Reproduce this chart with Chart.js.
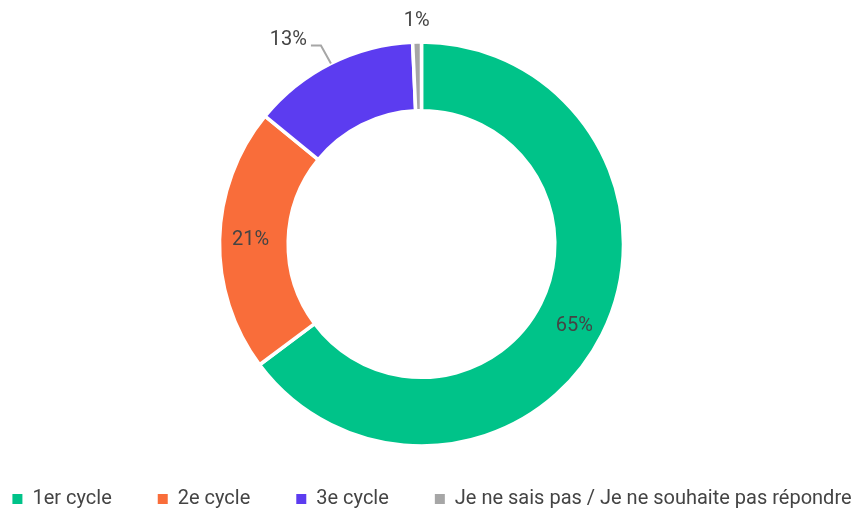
<!DOCTYPE html>
<html>
<head>
<meta charset="utf-8">
<script src="https://cdn.jsdelivr.net/npm/chart.js@4"></script>
<style>
  html, body { margin: 0; padding: 0; background: #fff; }
  #wrap { position: relative; width: 856px; height: 515px; }
</style>
</head>
<body>
<div id="wrap"><canvas id="myChart"></canvas></div>
<script>
const categories = ["1er cycle", "2e cycle", "3e cycle", "Je ne sais pas / Je ne souhaite pas répondre"];
const values = [64.8, 21.1, 13.4, 0.7];
const valueLabels = ["65%", "21%", "13%", "1%"];
const colors = ["#00c389", "#f96d3a", "#5c3cf0", "#a6a6a6"];

const FONT = "Roboto, sans-serif";
const LEGEND_H = 72;
const LEGEND_CENTER = 432;

const labelPlugin = {
  id: "sliceLabels",
  beforeLayout(chart) {
    // légende sur une seule ligne, hauteur fixe
    const lg = chart.legend;
    if (lg && !lg._patched) {
      lg._patched = true;
      const fit = lg.fit.bind(lg);
      lg.fit = function () {
        const w = this.maxWidth;
        this.maxWidth = w + 400;
        fit();
        this.maxWidth = w;
        this.width = w;
        this.height = LEGEND_H;
      };
      const draw = lg.draw.bind(lg);
      lg.draw = function () {
        const l = this.left, r = this.right;
        this.left = LEGEND_CENTER - 1000;
        this.right = LEGEND_CENTER + 1000;
        draw();
        this.left = l;
        this.right = r;
      };
    }
  },
  afterDatasetsDraw(chart) {
    const ctx = chart.ctx;
    const meta = chart.getDatasetMeta(0);
    ctx.save();
    ctx.font = "20px " + FONT;
    ctx.fillStyle = "#444444";
    ctx.textBaseline = "middle";
    meta.data.forEach((arc, i) => {
      const p = arc.getProps(["x", "y", "startAngle", "endAngle", "innerRadius", "outerRadius"], true);
      const mid = (p.startAngle + p.endAngle) / 2;
      if (values[i] >= 15) {
        const r = p.outerRadius - 31;
        ctx.textAlign = "center";
        ctx.fillText(valueLabels[i], p.x + Math.cos(mid) * r, p.y + Math.sin(mid) * r + (i === 0 ? 5 : 0));
      } else if (values[i] >= 5) {
        // étiquette extérieure avec trait
        const x0 = p.x + Math.cos(mid) * p.outerRadius;
        const y0 = p.y + Math.sin(mid) * p.outerRadius;
        const x1 = x0 - 10;
        const y1 = y0 - 18;
        ctx.strokeStyle = "#a6a6a6";
        ctx.lineWidth = 2;
        ctx.beginPath();
        ctx.moveTo(x0, y0);
        ctx.lineTo(x1, y1);
        ctx.lineTo(x1 - 10, y1);
        ctx.stroke();
        ctx.textAlign = "right";
        ctx.fillText(valueLabels[i], x1 - 14, y1 - 5);
      } else {
        const x0 = p.x + Math.cos(mid) * (p.outerRadius + 21);
        const y0 = p.y + Math.sin(mid) * (p.outerRadius + 21);
        ctx.textAlign = "center";
        ctx.fillText(valueLabels[i], x0, y0);
      }
    });
    ctx.restore();
  }
};

new Chart(document.getElementById("myChart"), {
  type: "doughnut",
  data: {
    labels: categories,
    datasets: [{
      data: values,
      backgroundColor: colors,
      borderColor: "#ffffff",
      borderWidth: 3.5,
      hoverOffset: 0,
      radius: 202
    }]
  },
  options: {
    responsive: true,
    maintainAspectRatio: false,
    animation: false,
    cutout: "66%",
    layout: { padding: { top: 45, bottom: 0, left: 0, right: 13 } },
    plugins: {
      tooltip: { enabled: false },
      legend: {
        position: "bottom",
        labels: {
          boxWidth: 10,
          boxHeight: 10,
          padding: 46,
          color: "#444444",
          font: { family: FONT, size: 20 },
          generateLabels(chart) {
            return Chart.overrides.doughnut.plugins.legend.labels.generateLabels(chart)
              .map((item) => ({ ...item, lineWidth: 0, strokeStyle: item.fillStyle }));
          }
        }
      }
    }
  },
  plugins: [labelPlugin]
});
</script>
</body>
</html>
